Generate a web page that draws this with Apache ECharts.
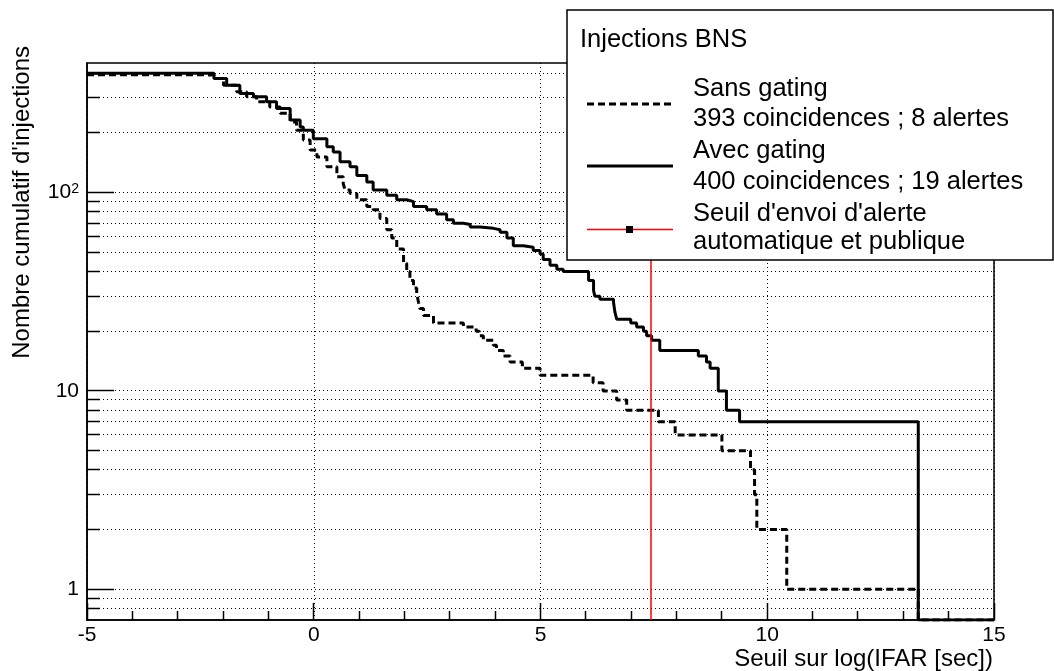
<!DOCTYPE html>
<html>
<head>
<meta charset="utf-8">
<script src="https://cdn.jsdelivr.net/npm/echarts@6/dist/echarts.min.js"></script>
<style>
html,body{margin:0;padding:0;background:#fff;}
#chart{width:1054px;height:671px;}
</style>
</head>
<body>
<div id="chart"></div>
<script>
// ---- axis ranges ----
const X_MIN = -5, X_MAX = 15, X_INTERVAL = 5;
const Y_MIN = 0.7, Y_MAX = 450;

// ---- "Avec gating" (solid) : threshold where count starts, cumulative count ----
const avecX = [-5, -2.51, -2.2, -1.92, -1.63, -1.33, -1.04, -0.82, -0.52, -0.30, -0.23, -0.01, 0.29, 0.43, 0.58, 0.80, 0.95, 1.17, 1.31, 1.61, 1.83, 2.05, 2.20, 2.49, 2.71, 2.93, 3.08, 3.30, 3.45, 3.67, 3.96, 4.11, 4.26, 4.40, 4.62, 4.84, 4.99, 5.06, 5.21, 5.36, 5.50, 6.06, 6.17, 6.20, 6.31, 6.61, 6.64, 6.68, 6.99, 7.12, 7.27, 7.34, 7.45, 7.63, 8.48, 8.66, 8.74, 8.92, 9.10, 9.39, 13.33, 15];
const avecN = [400, 399, 376, 348, 316, 304, 287, 265, 232, 214, 206, 187, 170, 160, 143, 135, 122, 113, 103, 97, 92, 90, 85, 82, 78, 73, 70, 69, 67, 66, 65, 63, 59, 54, 53, 51, 49, 46, 43, 41, 40, 36, 32, 30, 29, 28, 25, 23, 22, 21, 20, 19, 18, 16, 15, 14, 13, 10, 8, 7, 0, 0];

// ---- "Sans gating" (dashed) ----
const sansX = [-5, -2.51, -2.2, -1.99, -1.70, -1.48, -1.26, -0.97, -0.74, -0.52, -0.38, -0.23, -0.08, 0.07, 0.29, 0.51, 0.65, 0.69, 0.80, 0.95, 1.17, 1.31, 1.46, 1.61, 1.72, 1.83, 1.98, 2.05, 2.12, 2.20, 2.27, 2.31, 2.34, 2.42, 2.64, 3.30, 3.58, 3.65, 3.74, 3.96, 4.03, 4.18, 4.33, 4.60, 4.84, 4.99, 6.16, 6.38, 6.68, 6.90, 7.60, 7.97, 9.00, 9.63, 9.72, 9.77, 10.43, 13.33, 15];
const sansN = [393, 391, 376, 348, 322, 304, 287, 270, 251, 227, 206, 184, 164, 151, 135, 120, 111, 103, 99, 92, 85, 82, 74, 65, 59, 52, 44, 40, 36, 33, 31, 28, 26, 24, 22, 21, 20, 19, 18, 17, 16, 15, 14, 13, 13, 12, 11, 10, 9, 8, 7, 6, 5, 4, 3, 2, 1, 0, 0];

// ---- threshold ----
const thresholdX = 7.44;

// ---- grid / tick values ----
const yGridValues = [0.8, 0.9, 1, 2, 3, 4, 5, 6, 7, 8, 9, 10, 20, 30, 40, 50, 60, 70, 80, 90, 100, 200, 300, 400];
const xTickValues = [-5, -4, -3, -2, -1, 0, 1, 2, 3, 4, 5, 6, 7, 8, 9, 10, 11, 12, 13, 14, 15];

// ---- texts ----
const xTitle = 'Seuil sur log(IFAR [sec])';
const yTitle = "Nombre cumulatif d'injections";
const legendTitle = 'Injections BNS';
const legendLines = [
  ['Sans gating', '393 coincidences ; 8 alertes'],
  ['Avec gating', '400 coincidences ; 19 alertes'],
  ["Seuil d'envoi d'alerte", 'automatique et publique']
];

const FONT = '"Liberation Sans", Arial, Helvetica, sans-serif';
const LEG_FONT = '25.5px ' + FONT;
const TITLE_FONT = '24px ' + FONT;

function toSeries(xs, ns) {
  // zero counts cannot be shown on a log axis: they sit on the axis floor
  return xs.map((x, i) => [x, Math.max(ns[i], Y_MIN)]);
}
function isPow10(v) {
  const e = Math.log10(v);
  return Math.abs(e - Math.round(e)) < 1e-6;
}
function crisp(v) { return Math.round(v - 0.5) + 0.5; }

const chart = echarts.init(document.getElementById('chart'), null, {renderer: 'canvas'});

const option = {
  animation: false,
  backgroundColor: '#fff',
  textStyle: {fontFamily: FONT},
  grid: {
    left: 87, right: 60, top: 63, bottom: 51,
    show: true, borderColor: '#000', borderWidth: 1.5,
    containLabel: false
  },
  xAxis: {
    type: 'value', min: X_MIN, max: X_MAX, interval: X_INTERVAL,
    axisLine: {show: true, onZero: false, lineStyle: {color: '#000', width: 1.5}},
    axisTick: {show: false},
    minorTick: {show: false},
    splitLine: {show: true, lineStyle: {color: '#000', width: 1, type: [1, 3]}},
    axisLabel: {color: '#000', fontSize: 21, fontFamily: FONT, margin: 5,
      showMinLabel: true, showMaxLabel: true},
  },
  yAxis: {
    type: 'log', min: Y_MIN, max: Y_MAX, logBase: 10,
    axisLine: {show: true, onZero: false, lineStyle: {color: '#000', width: 1.5}},
    axisTick: {show: false},
    splitLine: {show: false},
    axisLabel: {
      color: '#000', fontSize: 21, fontFamily: FONT, margin: 8,
      showMinLabel: false, showMaxLabel: false,
      formatter: function (v) {
        if (!isPow10(v)) return '';
        const e = Math.round(Math.log10(v));
        if (e === 0) return '{b|1}';
        if (e === 1) return '{b|10}';
        return '{b|10}{s|' + e + '}';
      },
      rich: {
        b: {fontSize: 21, fontFamily: FONT, color: '#000'},
        s: {fontSize: 14, fontFamily: FONT, color: '#000', verticalAlign: 'top', padding: [0, 0, 6, 0]}
      }
    }
  },
  series: [
    {
      type: 'custom', name: 'ygrid', z: 1, silent: true,
      data: yGridValues.map(v => [X_MIN, v]),
      encode: {x: 0, y: 1},
      renderItem: function (params, api) {
        const v = api.value(1);
        const p0 = api.coord([X_MIN, v]);
        const p1 = api.coord([X_MAX, v]);
        const y = crisp(p0[1]);
        const len = isPow10(v) ? 27 : 13;
        return {
          type: 'group',
          children: [
            {type: 'line', shape: {x1: p0[0], y1: y, x2: p1[0], y2: y},
              style: {stroke: '#000', lineWidth: 1, lineDash: [1, 3]}},
            {type: 'line', shape: {x1: p0[0], y1: y, x2: p0[0] + len, y2: y},
              style: {stroke: '#000', lineWidth: 1.5}}
          ]
        };
      }
    },
    {
      type: 'custom', name: 'xticks', z: 1, silent: true,
      data: xTickValues.map(v => [v, Y_MIN]),
      encode: {x: 0, y: 1},
      renderItem: function (params, api) {
        const v = api.value(0);
        const p = api.coord([v, Y_MIN]);
        const x = crisp(p[0]);
        const len = (v % 5 === 0) ? 17 : 9;
        return {type: 'line', shape: {x1: x, y1: p[1], x2: x, y2: p[1] - len},
          style: {stroke: '#000', lineWidth: 1.5}};
      }
    },
    {
      type: 'line', name: 'Sans gating', step: 'end', z: 3,
      data: toSeries(sansX, sansN),
      symbol: 'none', clip: true,
      lineStyle: {color: '#000', width: 3, type: [7, 4]}
    },
    {
      type: 'line', name: 'Avec gating', step: 'end', z: 4,
      data: toSeries(avecX, avecN),
      symbol: 'none', clip: true,
      lineStyle: {color: '#000', width: 3, type: 'solid'},
      markLine: {
        silent: true, symbol: 'none', animation: false,
        label: {show: false},
        lineStyle: {color: '#ff0000', width: 1.5, type: 'solid'},
        data: [{xAxis: thresholdX}]
      }
    }
  ],
  graphic: [
    {
      type: 'text', x: 993, y: 659,
      style: {text: xTitle, font: TITLE_FONT, fill: '#000', align: 'right', verticalAlign: 'middle'}
    },
    {
      type: 'text', x: 22, y: 46, rotation: Math.PI / 2,
      style: {text: yTitle, font: TITLE_FONT, fill: '#000', align: 'right', verticalAlign: 'middle'}
    },
    {type: 'rect', z: 100, shape: {x: 567, y: 10, width: 486, height: 250},
      style: {fill: '#fff', stroke: '#000', lineWidth: 1.5}},
    {type: 'text', z: 101, x: 580, y: 40,
      style: {text: legendTitle, font: LEG_FONT, fill: '#000', verticalAlign: 'middle'}},
    {type: 'line', z: 101, shape: {x1: 587, y1: 104, x2: 673, y2: 104},
      style: {stroke: '#000', lineWidth: 3, lineDash: [7, 4]}},
    {type: 'text', z: 101, x: 693, y: 89,
      style: {text: legendLines[0][0], font: LEG_FONT, fill: '#000', verticalAlign: 'middle'}},
    {type: 'text', z: 101, x: 693, y: 119,
      style: {text: legendLines[0][1], font: LEG_FONT, fill: '#000', verticalAlign: 'middle'}},
    {type: 'line', z: 101, shape: {x1: 587, y1: 166, x2: 673, y2: 166},
      style: {stroke: '#000', lineWidth: 3}},
    {type: 'text', z: 101, x: 693, y: 151,
      style: {text: legendLines[1][0], font: LEG_FONT, fill: '#000', verticalAlign: 'middle'}},
    {type: 'text', z: 101, x: 693, y: 182,
      style: {text: legendLines[1][1], font: LEG_FONT, fill: '#000', verticalAlign: 'middle'}},
    {type: 'line', z: 101, shape: {x1: 587, y1: 229.5, x2: 673, y2: 229.5},
      style: {stroke: '#ff0000', lineWidth: 1.5}},
    {type: 'rect', z: 102, shape: {x: 626, y: 226, width: 7, height: 7},
      style: {fill: '#000'}},
    {type: 'text', z: 101, x: 693, y: 214,
      style: {text: legendLines[2][0], font: LEG_FONT, fill: '#000', verticalAlign: 'middle'}},
    {type: 'text', z: 101, x: 693, y: 242,
      style: {text: legendLines[2][1], font: LEG_FONT, fill: '#000', verticalAlign: 'middle'}}
  ]
};
chart.setOption(option);
</script>
</body>
</html>
